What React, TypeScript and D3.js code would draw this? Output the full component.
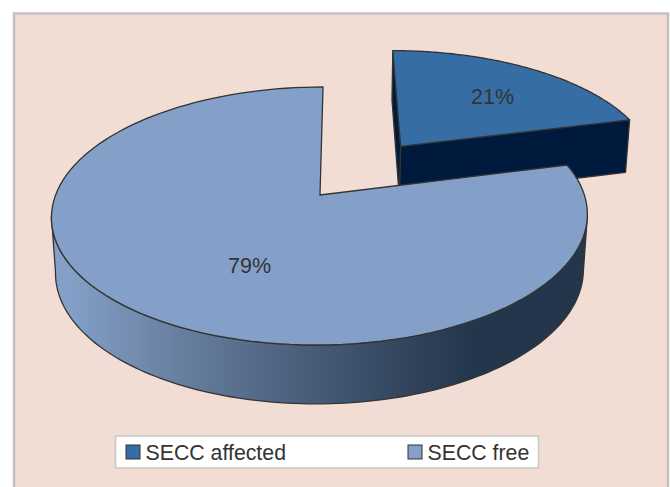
import * as d3 from 'd3';

const categories = ['SECC affected', 'SECC free'];
const shares = [21, 79];
const sliceColors = ['#376da5', '#84a0c8'];
const sideColors = ['#001a3d', '#24364b'];

const width = 670;
const height = 487;

// Pie lying on its back: unit disk -> screen through a small perspective
const apex = { x: 320, y: 195 };
const focal = { c: 264.4, a: 125.6, k: 0.1628, shear: 0.028 };
const depth = { e: 57.2, mx: 0.015, my: 0.038 };
const explode = { u: 0.32, v: 0.414 };

type Pt = [number, number];

function project(theta: number, r: number, floor: number, du = 0, dv = 0): Pt {
  const u = r * Math.sin(theta) + du;
  const v = r * Math.cos(theta) + dv;
  const w = 1 + focal.k * v;
  const sy = (focal.a * v - depth.e * floor) / (w + depth.my * floor);
  const sx = (focal.c * u) / (w + depth.mx * floor) + (focal.shear * focal.a * v) / w;
  return [apex.x + sx, apex.y - sy];
}

function arcPoints(a0: number, a1: number, floor: number, du = 0, dv = 0): Pt[] {
  return d3.range(0, 121).map((i) => project(a0 + ((a1 - a0) * i) / 120, 1, floor, du, dv));
}

const closed = d3.line<Pt>().curve(d3.curveLinearClosed);

export default function App() {
  const [affected, free] = d3.pie<number>().sort(null)(shares);

  // big slice
  const freeTop = [project(0, 0, 0), ...arcPoints(free.startAngle, free.endAngle, 0)];
  const tangent = Math.acos(-focal.k);
  const wall = [
    ...arcPoints(tangent, 2 * Math.PI - tangent, 0),
    ...arcPoints(tangent, 2 * Math.PI - tangent, 1).reverse(),
  ];

  // pulled out slice
  const { u, v } = explode;
  const affTop = [project(0, 0, 0, u, v), ...arcPoints(affected.startAngle, affected.endAngle, 0, u, v)];
  const cutFront = [
    project(0, 0, 0, u, v),
    project(affected.endAngle, 1, 0, u, v),
    project(affected.endAngle, 1, 1, u, v),
    project(0, 0, 1, u, v),
  ];
  const cutBack = [
    project(0, 0, 0, u, v),
    project(affected.startAngle, 1, 0, u, v),
    project(affected.startAngle, 1, 1, u, v),
    project(0, 0, 1, u, v),
  ];

  const edge = { stroke: '#333333', strokeWidth: 1.3, strokeLinejoin: 'round' as const };
  const legendX = [126, 408];

  return (
    <svg
      width={width}
      height={height}
      style={{ position: 'absolute', left: 0, top: 0 }}
      fontFamily="'Liberation Sans', Arial, sans-serif"
    >
      <defs>
        <linearGradient id="wallFill" gradientUnits="userSpaceOnUse" x1={52} x2={587} y1={0} y2={0}>
          <stop offset="0.03" stopColor="#84a0c8" />
          <stop offset="0.25" stopColor="#667d9d" />
          <stop offset="0.5" stopColor="#465a76" />
          <stop offset="0.78" stopColor="#24364b" />
          <stop offset="1" stopColor="#24364b" />
        </linearGradient>
      </defs>
      <rect width={width} height={height} fill="#ffffff" />
      <rect x={14} y={13.5} width={654} height={height} fill="#f2ddd4" stroke="#c4c0c0" strokeWidth={2.5} />

      <path d={closed(cutBack) ?? ''} fill={sideColors[0]} {...edge} />
      <path d={closed(cutFront) ?? ''} fill={sideColors[0]} {...edge} />
      <path d={closed(affTop) ?? ''} fill={sliceColors[0]} {...edge} />

      <path d={closed(wall) ?? ''} fill="url(#wallFill)" {...edge} />
      <path d={closed(freeTop) ?? ''} fill={sliceColors[1]} {...edge} />

      <text x={492.5} y={103.5} textAnchor="middle" fontSize={21.5} fill="#333333">
        {shares[0]}%
      </text>
      <text x={249.5} y={272.5} textAnchor="middle" fontSize={21.5} fill="#333333">
        {shares[1]}%
      </text>

      <rect x={115.5} y={436} width={423} height={32} fill="#ffffff" stroke="#c8c8c8" strokeWidth={1.5} />
      {categories.map((name, i) => (
        <g key={name}>
          <rect x={legendX[i]} y={445} width={14} height={14} fill={sliceColors[i]} stroke="#333333" strokeWidth={1} />
          <text x={legendX[i] + 19.5} y={460} fontSize={21.3} fill="#333333">
            {name}
          </text>
        </g>
      ))}
    </svg>
  );
}
